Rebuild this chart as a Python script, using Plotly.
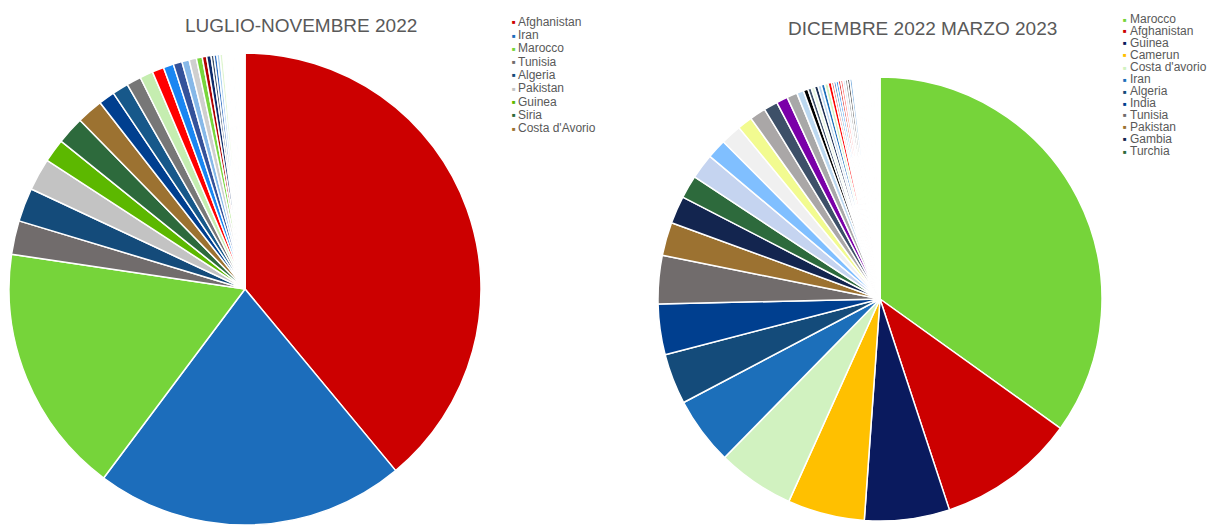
import plotly.graph_objects as go

# ---------------- data ----------------
left_title = "LUGLIO-NOVEMBRE 2022"
left_labels = ["Afghanistan", "Iran", "Marocco", "Tunisia", "Algeria", "Pakistan",
               "Guinea", "Siria", "Costa d'Avorio"] + [f"Altro {i}" for i in range(1, 32)]
left_values = [389, 212, 171, 23, 23, 22, 16, 19, 18,
               11, 11, 10, 9, 8, 7, 6, 5, 5, 4, 3, 3, 2, 2, 2, 2, 1, 1, 1,
               1, 1, 1, 1, 1, 1, 1, 1, 1, 1, 1, 1]
left_colors = ["#cc0000", "#1c6dbb", "#76d43a", "#716c6c", "#144b7a", "#c3c3c3",
               "#5cb800", "#2d6a3c", "#9c7231",
               "#003f8f", "#17588a", "#777777", "#c5edb0", "#ff0000", "#1a86f2",
               "#34529a", "#86b8e8", "#cfcfcf", "#78d63c", "#b00000", "#0d2a6a",
               "#3a4e6a", "#2a6ac0", "#a8cef0", "#dff5d0", "#999999", "#ff4040",
               "#b0d0f0",
               "#6fa8dc", "#ffaaaa", "#c9daf8", "#d9ead3", "#3d85c6", "#ea9999",
               "#cfe2f3", "#b6d7a8", "#9fc5e8", "#f4cccc", "#d0e0e3", "#cccccc"]
left_legend = left_labels[:9]

right_title = "DICEMBRE 2022 MARZO 2023"
right_labels = ["Marocco", "Afghanistan", "Guinea", "Camerun", "Costa d'avorio", "Iran",
                "Algeria", "India", "Tunisia", "Pakistan", "Gambia", "Turchia"] + \
               [f"Altro {i}" for i in range(1, 51)]
right_values = [417, 120, 74, 67, 67, 59, 44, 44, 42, 29, 24, 20,
                22, 17, 18, 13, 14, 12, 10, 9, 6, 4,
                3, 3, 3, 3, 3, 3, 3, 2, 2, 2, 2, 2, 2, 2, 2, 2, 1, 1, 1, 1,
                1, 1, 1, 1, 1, 1, 1, 1, 1, 1, 1, 1, 1, 1, 1, 1, 1, 1, 1, 1]
right_colors = ["#76d43a", "#cc0000", "#0a1a5e", "#ffc000", "#d1f2c0", "#1c6fba",
                "#144b7a", "#003f8f", "#716c6c", "#9c7231", "#13254f", "#2d6a3c",
                "#c5d4f0", "#80bfff", "#f0f0f0", "#f2fb90", "#aaa7a7", "#3d5068",
                "#7a00a8", "#a8a8a8", "#bcd8f0", "#000000",
                "#3d5068", "#e6f5e0", "#1c2f52", "#bcd8f0", "#1c6fba", "#d1f2c0",
                "#ff0000", "#e06666", "#3d85c6", "#1a86f2", "#cc0000", "#ff6060",
                "#cfe2f3", "#888888", "#222222", "#6fa8dc", "#dbe8f5", "#999999",
                "#ff8080", "#9fc5e8",
                "#ffb3b3", "#d9e6f5", "#c0c0c0", "#ffcccc", "#b3d1f0", "#ff9999",
                "#e0e0e0", "#cce0f5", "#ffc2c2", "#d0d0d0", "#ffb3b3", "#d9e6f5",
                "#c0c0c0", "#ffcccc", "#b3d1f0", "#ff9999", "#e0e0e0", "#cce0f5",
                "#ffc2c2", "#d0d0d0"]
right_legend = right_labels[:12]

# ---------------- layout ----------------
W, H = 1227, 531
FONT = "Liberation Sans, Arial, sans-serif"
TXT = "#595959"

def dom(cx, cy, r):
    return dict(x=[(cx - r) / W, (cx + r) / W], y=[(H - cy - r) / H, (H - cy + r) / H])

fig = go.Figure()
fig.add_trace(go.Pie(labels=left_labels, values=left_values, sort=False,
                     direction="clockwise", rotation=0, textinfo="none",
                     marker=dict(colors=left_colors, line=dict(color="white", width=1.5)),
                     domain=dom(245, 289, 236), showlegend=False, hoverinfo="label+value+percent"))
fig.add_trace(go.Pie(labels=right_labels, values=right_values, sort=False,
                     direction="clockwise", rotation=0, textinfo="none",
                     marker=dict(colors=right_colors, line=dict(color="white", width=1.5)),
                     domain=dom(880, 299, 222), showlegend=False, hoverinfo="label+value+percent"))

ann = []
ann.append(dict(text=left_title, x=301 / W, y=1 - 25.5 / H, xref="paper", yref="paper",
                xanchor="center", yanchor="middle", showarrow=False,
                font=dict(family=FONT, size=19, color=TXT)))
ann.append(dict(text=right_title, x=922 / W, y=1 - 28.5 / H, xref="paper", yref="paper",
                xanchor="center", yanchor="middle", showarrow=False,
                font=dict(family=FONT, size=19, color=TXT)))

def add_legend(names, colors, x_sq, x_txt, y0, dy):
    for i, (n, c) in enumerate(zip(names, colors)):
        y = y0 + i * dy
        ann.append(dict(text="■", x=x_sq / W, y=1 - (y + 0.5) / H, xref="paper", yref="paper",
                        xanchor="center", yanchor="middle", showarrow=False,
                        font=dict(family=FONT, size=6, color=c)))
        ann.append(dict(text=n, x=x_txt / W, y=1 - y / H, xref="paper", yref="paper",
                        xanchor="left", yanchor="middle", showarrow=False,
                        font=dict(family=FONT, size=12, color=TXT)))

add_legend(left_legend, left_colors[:9], 514, 516, 21.7, 13.3)
add_legend(right_legend, right_colors[:12], 1125, 1128, 19, 12.0)

fig.update_layout(width=W, height=H, margin=dict(l=0, r=0, t=0, b=0),
                  paper_bgcolor="white", plot_bgcolor="white",
                  annotations=ann, showlegend=False)
fig.write_html("out.html")
